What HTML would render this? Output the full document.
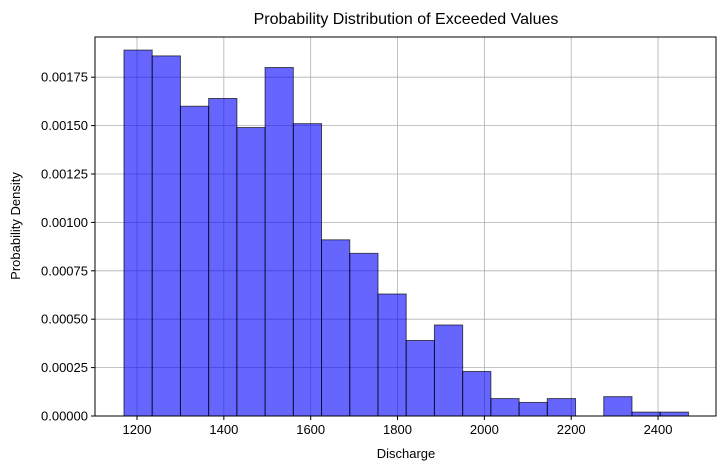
<!DOCTYPE html>
<html><head><meta charset="utf-8"><style>
body{margin:0;background:#fff;}
svg{display:block;font-family:"Liberation Sans","DejaVu Sans",sans-serif;}
</style></head><body>
<svg id="chart" width="726" height="470">
<text x="406" y="24" text-anchor="middle" font-size="16" fill="#000">Probability Distribution of Exceeded Values</text>
<text x="406" y="458" text-anchor="middle" font-size="13">Discharge</text>
<text transform="translate(20,226) rotate(-90)" text-anchor="middle" font-size="13">Probability Density</text>
<g id="grid"></g><g id="bars"></g><g id="axes"></g>
</svg>
<script>
const binStart = 1170;
const binWidth = 65;
const densities = [0.00189,0.00186,0.00160,0.00164,0.00149,0.00180,0.00151,0.00091,0.00084,0.00063,0.00039,0.00047,0.00023,0.00009,0.00007,0.00009,0,0.00010,0.00002,0.00002];
const xTicks = [1200,1400,1600,1800,2000,2200,2400];
const yTicks = [0,0.00025,0.00050,0.00075,0.00100,0.00125,0.00150,0.00175];
const yTickLabels = ["0.00000","0.00025","0.00050","0.00075","0.00100","0.00125","0.00150","0.00175"];
const L=95,R=716,T=37,B=416;
const x=v=>137+(v-1200)*0.4342;
const y=v=>B-v*193600;
const NS="http://www.w3.org/2000/svg";
function mk(tag,attrs,parent,text){const e=document.createElementNS(NS,tag);for(const k in attrs)e.setAttribute(k,attrs[k]);if(text!==undefined)e.textContent=text;parent.appendChild(e);return e;}
const grid=document.getElementById('grid'),bars=document.getElementById('bars'),axes=document.getElementById('axes');
xTicks.forEach((t,i)=>{
 const g=mk('line',{x1:x(t),x2:x(t),y1:T,y2:B,stroke:'#b0b0b0','stroke-width':0.8},grid);
 
 
 mk('line',{x1:x(t),x2:x(t),y1:B,y2:B+4,stroke:'#000'},axes);
 const lb=mk('text',{x:x(t),y:B+18,'text-anchor':'middle','font-size':13},axes,String(t));
 
 
});
yTicks.forEach((t,i)=>{
 const g=mk('line',{x1:L,x2:R,y1:y(t),y2:y(t),stroke:'#b0b0b0','stroke-width':0.8},grid);
 
 
 mk('line',{x1:L-4,x2:L,y1:y(t),y2:y(t),stroke:'#000'},axes);
 const lb=mk('text',{x:L-7,y:y(t)+4.5,'text-anchor':'end','font-size':13},axes,yTickLabels[i]);
 
 
});
densities.forEach((d,i)=>{
 const x0=x(binStart+i*binWidth),x1=x(binStart+(i+1)*binWidth);
 const r=mk('rect',{x:x0,y:y(d),width:x1-x0,height:B-y(d),fill:'rgba(0,0,255,0.6)',stroke:'rgba(0,0,0,0.65)','stroke-width':1},bars);
 
 
});
const f=mk('rect',{x:L,y:T,width:R-L,height:B-T,fill:'none',stroke:'#000','stroke-width':1},axes);


</script>
</body></html>
